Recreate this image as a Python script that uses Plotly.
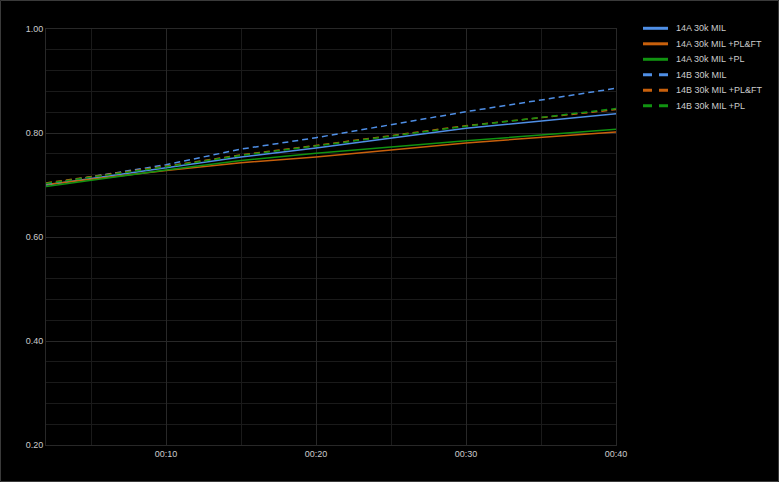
import plotly.graph_objects as go

minutes = [2, 10, 15, 20, 30, 40]
a_mil = [0.700, 0.734, 0.754, 0.771, 0.809, 0.837]
a_plft = [0.701, 0.728, 0.743, 0.754, 0.781, 0.802]
a_pl = [0.697, 0.729, 0.747, 0.761, 0.785, 0.807]
b_mil = [0.702, 0.739, 0.769, 0.791, 0.841, 0.886]
b_plft = [0.704, 0.736, 0.758, 0.776, 0.814, 0.845]
b_pl = [0.703, 0.735, 0.757, 0.775, 0.813, 0.847]

names = ["14A 30k MIL", "14A 30k MIL +PL&FT", "14A 30k MIL +PL",
         "14B 30k MIL", "14B 30k MIL +PL&FT", "14B 30k MIL +PL"]
series = [a_mil, a_plft, a_pl, b_mil, b_plft, b_pl]
colors = ["#4f8fe6", "#c8600c", "#119311", "#4f8fe6", "#c8600c", "#119311"]
dashes = ["solid", "solid", "solid", "6px,4px", "6px,4px", "6px,4px"]

x_tickvals = [10, 20, 30, 40]
x_ticktext = ["00:10", "00:20", "00:30", "00:40"]

W, H = 779, 482
L, R, T, B = 46, 163, 29, 37
PW, PH = W - L - R, H - T - B


def px_x(p):
    return (p - L) / PW


def px_y(p):
    return (H - B - p) / PH


fig = go.Figure()
for n, s, c, d in zip(names, series, colors, dashes):
    fig.add_trace(go.Scatter(x=minutes, y=s, mode="lines", name=n,
                             line=dict(color=c, width=1.5, dash=d),
                             showlegend=False, hoverinfo="skip"))

shapes = [dict(type="rect", xref="paper", yref="paper",
               x0=px_x(0.5), x1=px_x(W - 0.5), y0=px_y(H - 0.5), y1=px_y(0.5),
               line=dict(color="#3a3a3a", width=1), layer="below")]
annotations = []
for i, (n, c, d) in enumerate(zip(names, colors, dashes)):
    yy = px_y(28.3 + i * 15.5)
    shapes.append(dict(type="line", xref="paper", yref="paper",
                       x0=px_x(643), x1=px_x(668), y0=yy, y1=yy,
                       line=dict(color=c, width=3,
                                 dash="9px,7px" if d != "solid" else "solid")))
    annotations.append(dict(xref="paper", yref="paper", x=px_x(674), y=yy,
                            text=n, showarrow=False, xanchor="left", yanchor="middle",
                            font=dict(size=9, color="#cccccc")))

grid = "#282828"
minor_grid = "#1a1a1a"
fig.update_layout(
    width=W, height=H,
    paper_bgcolor="#000000", plot_bgcolor="#000000",
    margin=dict(l=L, r=R, t=T, b=B),
    font=dict(family="Liberation Sans, Arial, sans-serif", size=9, color="#cccccc"),
    showlegend=False,
    hovermode=False,
    xaxis=dict(range=[2, 40], tickvals=x_tickvals, ticktext=x_ticktext,
               showgrid=True, gridcolor=grid, gridwidth=1, zeroline=False,
               showline=True, linecolor=grid, mirror=True, ticks="",
               minor=dict(dtick=5, tick0=0, showgrid=True, gridcolor=minor_grid)),
    yaxis=dict(range=[0.2, 1.0], dtick=0.2, tick0=0.2, tickformat=".2f",
               showgrid=True, gridcolor=grid, gridwidth=1, zeroline=False,
               showline=True, linecolor=grid, mirror=True, ticks="",
               minor=dict(dtick=0.04, tick0=0.2, showgrid=True, gridcolor=minor_grid)),
    shapes=shapes,
    annotations=annotations,
)

fig.write_html("out.html", config={"displayModeBar": False},
               post_script="document.body.style.margin='0';document.body.style.background='#000';")
